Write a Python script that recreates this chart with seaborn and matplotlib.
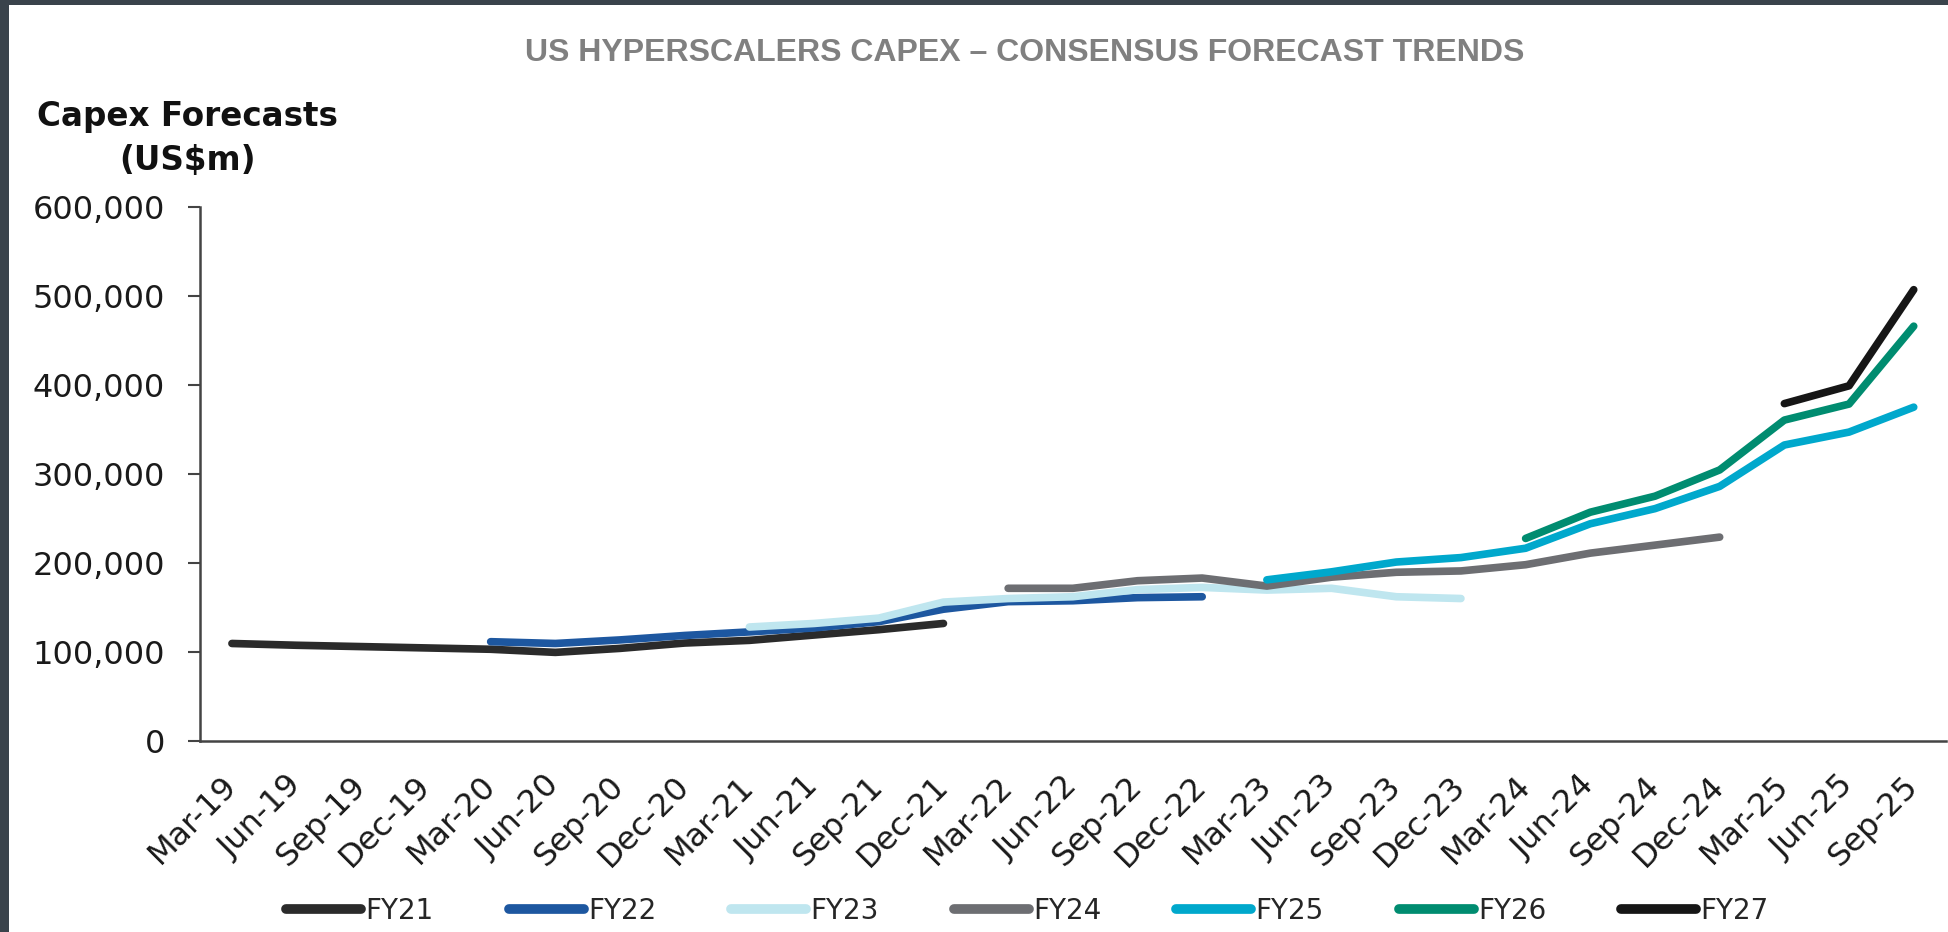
import numpy as np
import pandas as pd
import seaborn as sns
import matplotlib.pyplot as plt
from matplotlib.patches import Rectangle
from matplotlib.ticker import FuncFormatter

# Quarter axis (x) and consensus capex forecasts per fiscal year (US$ thousands of m)
quarters = ['Mar-19', 'Jun-19', 'Sep-19', 'Dec-19',
            'Mar-20', 'Jun-20', 'Sep-20', 'Dec-20',
            'Mar-21', 'Jun-21', 'Sep-21', 'Dec-21',
            'Mar-22', 'Jun-22', 'Sep-22', 'Dec-22',
            'Mar-23', 'Jun-23', 'Sep-23', 'Dec-23',
            'Mar-24', 'Jun-24', 'Sep-24', 'Dec-24',
            'Mar-25', 'Jun-25', 'Sep-25']

series_names = ['FY21', 'FY22', 'FY23', 'FY24', 'FY25', 'FY26', 'FY27']
series_start = ['Mar-19', 'Mar-20', 'Mar-21', 'Mar-22', 'Mar-23', 'Mar-24', 'Mar-25']

fy21 = [109.5, 107.5, 106, 104.5, 103, 99.5, 104, 110, 113, 119, 125, 132]
fy22 = [111.5, 109.5, 113.5, 118.5, 122.5, 127, 134, 148, 156.5, 157.5, 161, 162]
fy23 = [128, 132, 138, 156, 160, 162, 170, 172.5, 169.5, 171.5, 162, 160]
fy24 = [171.5, 171.5, 180, 183, 174, 184, 189.5, 191, 198, 211, 220, 229]
fy25 = [181, 190, 201, 206, 216.5, 244, 261, 286, 332.5, 347, 375]
fy26 = [227.5, 257, 275, 304.5, 360.5, 378.5, 466]
fy27 = [379, 399, 507]

colors = ['#2b2b2b', '#1d57a0', '#bfe6ef', '#6d6e72', '#00a8cc', '#008c70', '#161616']

rows = []
for name, start, vals in zip(series_names, series_start,
                             [fy21, fy22, fy23, fy24, fy25, fy26, fy27]):
    i0 = quarters.index(start)
    for k, v in enumerate(vals):
        rows.append({'pos': i0 + k, 'quarter': quarters[i0 + k],
                     'series': name, 'capex': v * 1000})
df = pd.DataFrame(rows)

sns.set_style('white')
plt.rcParams['font.family'] = ['DejaVu Sans']

fig, ax = plt.subplots(figsize=(19.49, 9.32), dpi=100)
fig.subplots_adjust(left=0.1024, right=0.9985, bottom=0.205, top=0.778)

# dark screenshot frame on the left / top
fig.patch.set_facecolor('#3a434b')
fig.patches.append(Rectangle((9 / 1949, 0), 1, 1 - 5 / 932, transform=fig.transFigure,
                             facecolor='white', edgecolor='none', zorder=-1))

sns.lineplot(data=df, x='pos', y='capex', hue='series', hue_order=series_names,
             palette=dict(zip(series_names, colors)), linewidth=5.5,
             sort=False, ax=ax)
for line in ax.lines:
    line.set_solid_capstyle('round')

# axes styling
ax.set_xlim(-0.5, len(quarters) - 0.5)
ax.set_ylim(0, 600000)
ax.set_yticks(np.arange(0, 600001, 100000))
ax.yaxis.set_major_formatter(FuncFormatter(lambda v, p: f'{v:,.0f}'))
ax.set_xticks(range(len(quarters)))
ax.set_xticklabels(quarters, rotation=45, ha='right', va='center', rotation_mode='anchor')
ax.set_xticks(np.arange(-0.5, len(quarters), 1), minor=True)
ax.tick_params(axis='x', which='major', length=0, pad=29, labelsize=23, colors='#1a1a1a')
ax.tick_params(axis='x', which='minor', length=9, width=1.5, color='#444444', direction='out')
ax.tick_params(axis='y', length=9, width=1.5, color='#444444', pad=16, labelsize=23,
               labelcolor='#1a1a1a', left=True, direction='out')
for s in ['top', 'right']:
    ax.spines[s].set_visible(False)
for s in ['left', 'bottom']:
    ax.spines[s].set_color('#444444')
    ax.spines[s].set_linewidth(1.8)

ax.set_xlabel('')
ax.set_ylabel('Capex Forecasts\n(US$m)', rotation=0, fontsize=23.5, fontweight='bold',
              color='#111111', ha='center', va='center', linespacing=1.45)
ax.yaxis.set_label_coords(-0.007, 1.128)

fig.suptitle('US HYPERSCALERS CAPEX \u2013 CONSENSUS FORECAST TRENDS', x=0.526, y=0.943,
             va='center', fontsize=23, fontweight='bold', color='#808080',
             family='Liberation Sans')

sns.move_legend(ax, 'center', bbox_to_anchor=(0.474, -0.318), ncol=7, frameon=False,
                title=None, fontsize=20, handlelength=2.7, handletextpad=0.15,
                columnspacing=2.7)
for h in ax.get_legend().legend_handles:
    h.set_linewidth(7)
    h.set_solid_capstyle('round')

fig.savefig('out.png', dpi=100, facecolor=fig.get_facecolor())
